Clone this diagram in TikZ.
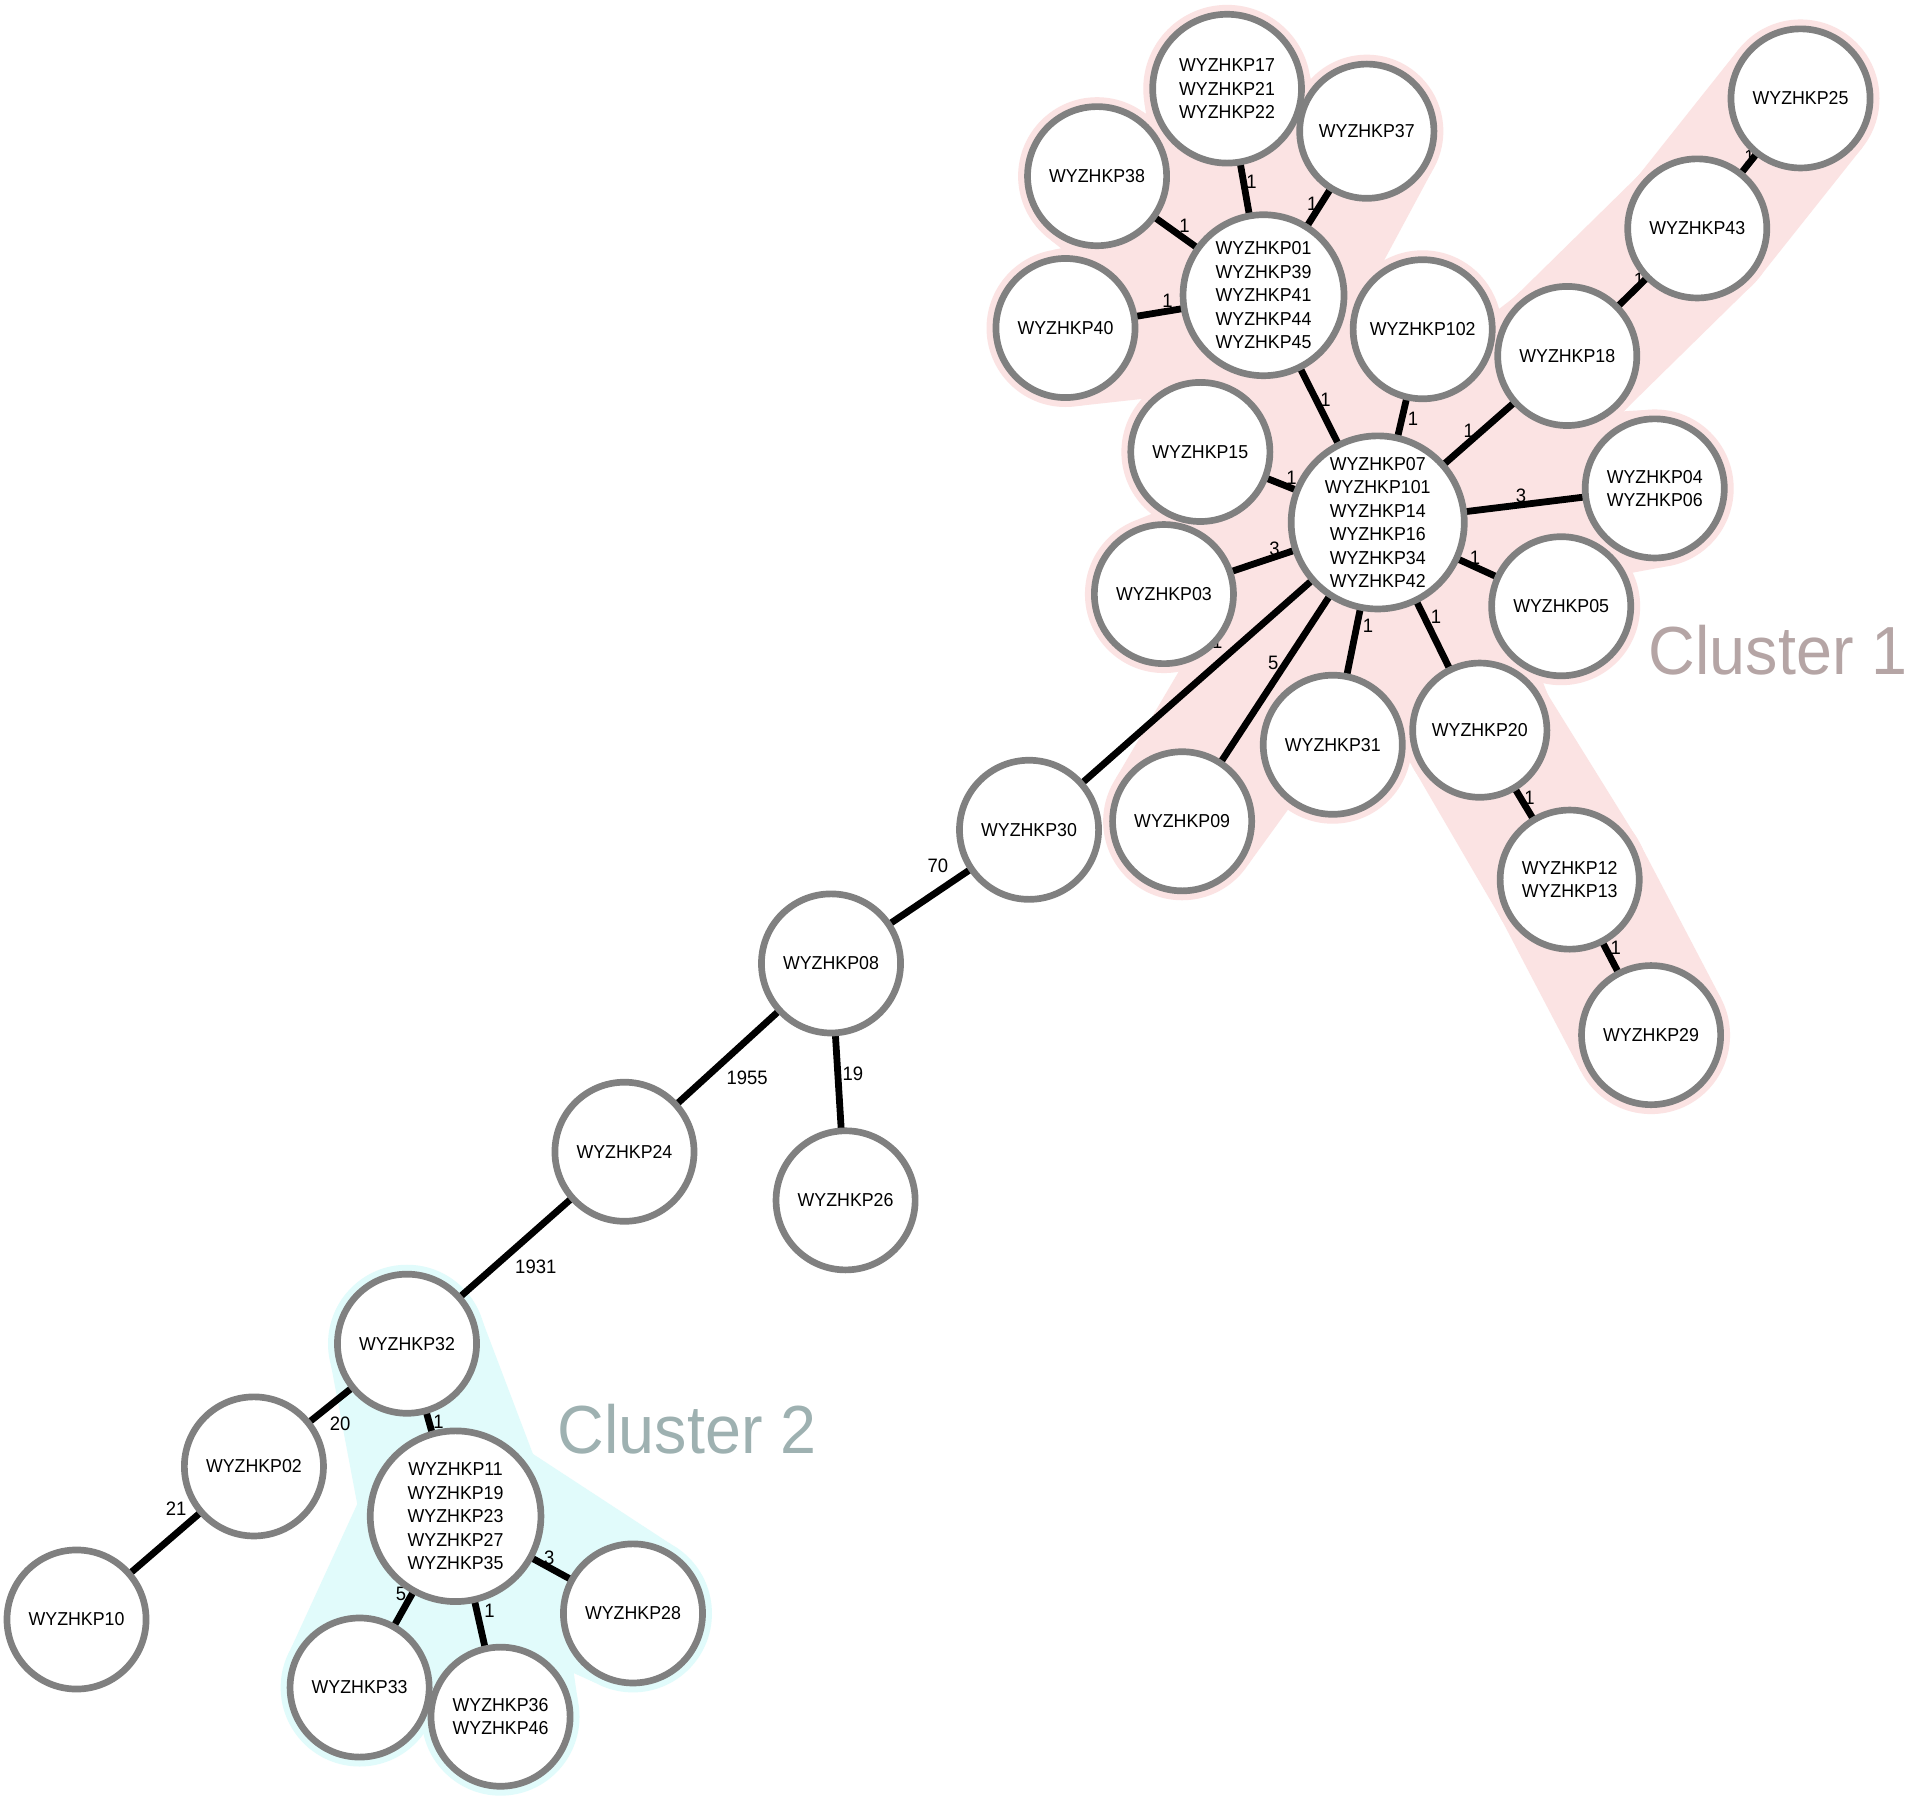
\documentclass[tikz,border=0pt]{standalone}
\usepackage{fontspec}
\setmainfont{Liberation Sans}[FakeStretch=0.95]
\usetikzlibrary{calc}
\definecolor{ndgray}{RGB}{128,128,128}
\definecolor{halopink}{RGB}{251,227,227}
\definecolor{halocyan}{RGB}{225,251,251}
\definecolor{cl1col}{RGB}{181,165,165}
\definecolor{cl2col}{RGB}{158,177,177}
\pgfdeclarelayer{bg}
\pgfdeclarelayer{halo}
\pgfdeclarelayer{edges}
\pgfsetlayers{bg,halo,edges,main}
\newcommand\nodefont{\fontsize{15.4}{19.3}\selectfont}
\newcommand\myhalo[5]{%
  \fill[#1] ($(#2.center)!#4pt!90:(#3.center)$) -- ($(#3.center)!#5pt!-90:(#2.center)$)
     -- ($(#3.center)!#5pt!90:(#2.center)$) -- ($(#2.center)!#4pt!-90:(#3.center)$) -- cycle;
  \fill[#1] (#2.center) circle[radius=#4pt];
  \fill[#1] (#3.center) circle[radius=#5pt];}
\tikzset{
  hnode/.style={circle, draw=ndgray, line width=5.5pt, fill=white, inner sep=0pt, minimum size=#1},
  hnode/.default=114.5,
  txt/.style={align=center, font=\nodefont, inner sep=0pt, text=black},
  edge/.style={line width=5.6pt, black},
  elab/.style={font=\fontsize{16}{16}\selectfont, inner sep=0pt},
  clab/.style={font=\fontsize{56}{56}\selectfont, inner sep=0pt, anchor=base west}
}
\begin{document}
\begin{tikzpicture}[x=1pt,y=-1pt]
\begin{pgfonlayer}{bg}
\fill[white] (0,0) rectangle (1568,1482);
\end{pgfonlayer}
\useasboundingbox (0,0) rectangle (1568,1482);
% cluster 1
\node[hnode, label={[txt]center:WYZHKP25}] (n25) at (1482,81) {};
\node[hnode, label={[txt]center:WYZHKP43}] (n43) at (1397,188) {};
\node[hnode, label={[txt]center:WYZHKP18}] (n18) at (1290,293) {};
\node[hnode, label={[txt]center:WYZHKP102}] (n102) at (1171,271) {};
\node[hnode=132.5, label={[txt]center:{WYZHKP01\\WYZHKP39\\WYZHKP41\\WYZHKP44\\WYZHKP45}}] (n01) at (1040,243) {};
\node[hnode=122.5, label={[txt]center:{WYZHKP17\\WYZHKP21\\WYZHKP22}}] (n17) at (1010,73) {};
\node[hnode=110.5, label={[txt]center:WYZHKP37}] (n37) at (1125,108) {};
\node[hnode, label={[txt]center:WYZHKP38}] (n38) at (903,145) {};
\node[hnode, label={[txt]center:WYZHKP40}] (n40) at (877,270) {};
\node[hnode, label={[txt]center:WYZHKP15}] (n15) at (988,372) {};
\node[hnode=142.5, label={[txt]center:{WYZHKP07\\WYZHKP101\\WYZHKP14\\WYZHKP16\\WYZHKP34\\WYZHKP42}}] (n07) at (1134,430) {};
\node[hnode, label={[txt]center:{WYZHKP04\\WYZHKP06}}] (n04) at (1362,402) {};
\node[hnode, label={[txt]center:WYZHKP03}] (n03) at (958,489) {};
\node[hnode, label={[txt]center:WYZHKP05}] (n05) at (1285,499) {};
\node[hnode, label={[txt]center:WYZHKP31}] (n31) at (1097,613) {};
\node[hnode=110.5, label={[txt]center:WYZHKP20}] (n20) at (1218,601) {};
\node[hnode, label={[txt]center:WYZHKP09}] (n09) at (973,676) {};
\node[hnode, label={[txt]center:{WYZHKP12\\WYZHKP13}}] (n12) at (1292,724) {};
\node[hnode, label={[txt]center:WYZHKP29}] (n29) at (1359,852) {};
% backbone
\node[hnode, label={[txt]center:WYZHKP30}] (n30) at (847,683) {};
\node[hnode, label={[txt]center:WYZHKP08}] (n08) at (684,793) {};
\node[hnode, label={[txt]center:WYZHKP26}] (n26) at (696,988) {};
\node[hnode, label={[txt]center:WYZHKP24}] (n24) at (514,948) {};
\node[hnode, label={[txt]center:WYZHKP32}] (n32) at (335,1106) {};
\node[hnode, label={[txt]center:WYZHKP02}] (n02) at (209,1207) {};
\node[hnode, label={[txt]center:WYZHKP10}] (n10) at (63,1333) {};
% cluster 2
\node[hnode=140.5, label={[txt]center:{WYZHKP11\\WYZHKP19\\WYZHKP23\\WYZHKP27\\WYZHKP35}}] (n11) at (375,1248) {};
\node[hnode, label={[txt]center:WYZHKP28}] (n28) at (521,1328) {};
\node[hnode, label={[txt]center:WYZHKP33}] (n33) at (296,1389) {};
\node[hnode, label={[txt]center:{WYZHKP36\\WYZHKP46}}] (n36) at (412,1413) {};
% cluster labels
\node[clab, text=cl1col] (c1) at (1357,555) {Cluster 1};
\node[clab, text=cl2col] (c2) at (459,1196) {Cluster 2};
\begin{pgfonlayer}{halo}
\myhalo{halopink}{n17}{n01}{69}{74}
\myhalo{halopink}{n37}{n01}{63}{74}
\myhalo{halopink}{n38}{n01}{65}{74}
\myhalo{halopink}{n40}{n01}{65}{74}
\myhalo{halopink}{n01}{n07}{74}{79}
\myhalo{halopink}{n102}{n07}{65}{79}
\myhalo{halopink}{n18}{n07}{65}{79}
\myhalo{halopink}{n43}{n18}{65}{65}
\myhalo{halopink}{n25}{n43}{65}{65}
\myhalo{halopink}{n15}{n07}{65}{79}
\myhalo{halopink}{n04}{n07}{65}{79}
\myhalo{halopink}{n03}{n07}{65}{79}
\myhalo{halopink}{n05}{n07}{65}{79}
\myhalo{halopink}{n31}{n07}{65}{79}
\myhalo{halopink}{n20}{n07}{63}{79}
\myhalo{halopink}{n09}{n07}{65}{79}
\myhalo{halopink}{n12}{n20}{65}{63}
\myhalo{halopink}{n29}{n12}{65}{65}
\myhalo{halocyan}{n11}{n32}{78}{65}
\myhalo{halocyan}{n28}{n11}{65}{78}
\myhalo{halocyan}{n33}{n11}{65}{78}
\myhalo{halocyan}{n36}{n11}{65}{78}
\end{pgfonlayer}
\begin{pgfonlayer}{edges}
\draw[edge] (n17.center) -- (n01.center);
\draw[edge] (n37.center) -- (n01.center);
\draw[edge] (n38.center) -- (n01.center);
\draw[edge] (n40.center) -- (n01.center);
\draw[edge] (n01.center) -- (n07.center);
\draw[edge] (n102.center) -- (n07.center);
\draw[edge] (n18.center) -- (n07.center);
\draw[edge] (n43.center) -- (n18.center);
\draw[edge] (n25.center) -- (n43.center);
\draw[edge] (n15.center) -- (n07.center);
\draw[edge] (n04.center) -- (n07.center);
\draw[edge] (n03.center) -- (n07.center);
\draw[edge] (n05.center) -- (n07.center);
\draw[edge] (n31.center) -- (n07.center);
\draw[edge] (n20.center) -- (n07.center);
\draw[edge] (n09.center) -- (n07.center);
\draw[edge] (n30.center) -- (n07.center);
\draw[edge] (n12.center) -- (n20.center);
\draw[edge] (n29.center) -- (n12.center);
\draw[edge] (n30.center) -- (n08.center);
\draw[edge] (n08.center) -- (n24.center);
\draw[edge] (n08.center) -- (n26.center);
\draw[edge] (n24.center) -- (n32.center);
\draw[edge] (n32.center) -- (n02.center);
\draw[edge] (n32.center) -- (n11.center);
\draw[edge] (n02.center) -- (n10.center);
\draw[edge] (n11.center) -- (n28.center);
\draw[edge] (n11.center) -- (n33.center);
\draw[edge] (n11.center) -- (n36.center);
% edge labels
\node[elab] (l1) at (1030,150) {1};
\node[elab] (l2) at (1080,168) {1};
\node[elab] (l3) at (975,186) {1};
\node[elab] (l4) at (961,248) {1};
\node[elab] (l5) at (1091,329) {1};
\node[elab] (l6) at (1163,345) {1};
\node[elab] (l7) at (1209,355) {1};
\node[elab] (l8) at (1349,230) {1};
\node[elab] (l9) at (1440,129) {1};
\node[elab] (l10) at (1063,393) {1};
\node[elab] (l11) at (1252,408) {3};
\node[elab] (l12) at (1049,452) {3};
\node[elab] (l13) at (1214,459) {1};
\node[elab] (l14) at (1126,515) {1};
\node[elab] (l15) at (1182,508) {1};
\node[elab] (l16) at (1048,546) {5};
\node[elab] (l17) at (1002,528) {1};
\node[elab] (l18) at (1259,657) {1};
\node[elab] (l19) at (1330,780) {1};
\node[elab] (l20) at (772,713) {70};
\node[elab] (l21) at (615,887) {1955};
\node[elab] (l22) at (702,884) {19};
\node[elab] (l23) at (441,1043) {1931};
\node[elab] (l24) at (280,1172) {20};
\node[elab] (l25) at (361,1170) {1};
\node[elab] (l26) at (145,1242) {21};
\node[elab] (l27) at (452,1282) {3};
\node[elab] (l28) at (330,1312) {5};
\node[elab] (l29) at (403,1326) {1};
\end{pgfonlayer}
\end{tikzpicture}
\end{document}
